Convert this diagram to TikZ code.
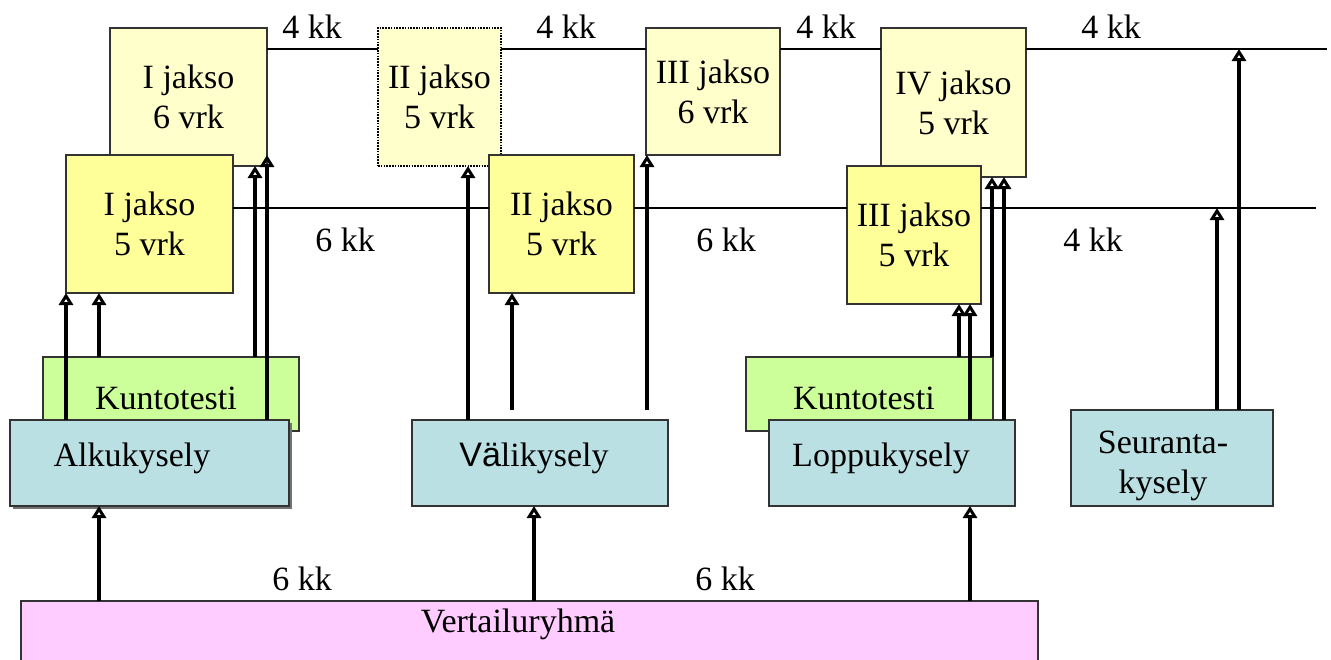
\documentclass[tikz,border=0pt]{standalone}
\usepackage{fontspec}
\setmainfont{Liberation Serif}
\setsansfont{Liberation Sans}
\usetikzlibrary{arrows.meta,shadows}
\definecolor{lyel}{HTML}{FFFFCC}
\definecolor{dyel}{HTML}{FFFF99}
\definecolor{lgreen}{HTML}{CCFF99}
\definecolor{qblue}{HTML}{BBE0E3}
\definecolor{lpink}{HTML}{FFCCFF}
\begin{document}
\begin{tikzpicture}[x=1pt,y=-1pt,font=\fontsize{34}{40}\selectfont,
  box/.style={draw=black!80,line width=1.3pt,inner sep=0pt,outer sep=0pt,anchor=north west,align=center},
  arr/.style={line width=3.4pt,-{Triangle[open,width=14pt,length=12pt,line width=3pt]}},
  thinline/.style={line width=1.4pt},
  lbl/.style={anchor=base,inner sep=0pt}]
\useasboundingbox (0,0) rectangle (1331,659);
% period boxes
\node[box,fill=lyel,minimum width=157pt,minimum height=138pt] (j1a) at (110,28) {I jakso\\6 vrk};
\node[box,fill=lyel,draw=black,line width=2pt,dash pattern=on 1.6pt off 1.2pt,minimum width=123pt,minimum height=138pt] (j2a) at (378,28) {II jakso\\5 vrk};
\node[box,fill=lyel,minimum width=134pt,minimum height=127pt] (j3a) at (646,28) {III jakso\\6 vrk};
\node[box,fill=lyel,minimum width=145pt,minimum height=149pt] (j4) at (881,28) {IV jakso\\5 vrk};
\node[box,fill=dyel,minimum width=167pt,minimum height=138pt] (j1b) at (66,155) {I jakso\\5 vrk};
\node[box,fill=dyel,minimum width=145pt,minimum height=138pt] (j2b) at (489,155) {II jakso\\5 vrk};
\node[box,fill=dyel,minimum width=134pt,minimum height=138pt] (j3b) at (847,166) {III jakso\\5 vrk};
% timeline end points
\coordinate (tEnd) at (1327,49);
\coordinate (mEnd) at (1316,208);
\draw[thinline] (j1a.east |- 0,49) -- (j2a.west |- 0,49);
\draw[thinline] (j2a.east |- 0,49) -- (j3a.west |- 0,49);
\draw[thinline] (j3a.east |- 0,49) -- (j4.west |- 0,49);
\draw[thinline] (j4.east |- 0,49) -- (tEnd);
\draw[thinline] (j1b.east |- 0,208) -- (j2b.west |- 0,208);
\draw[thinline] (j2b.east |- 0,208) -- (j3b.west |- 0,208);
\draw[thinline] (j3b.east |- 0,208) -- (mEnd);
% test and survey boxes
\node[box,fill=lgreen,minimum width=256pt,minimum height=74pt] (kunto1) at (43,357) {};
\node[box,fill=lgreen,minimum width=247pt,minimum height=74pt] (kunto2) at (746,357) {};
\node[box,fill=qblue,minimum width=279pt,minimum height=86pt,drop shadow={shadow xshift=3pt,shadow yshift=-3pt,fill=black!55,opacity=1}] (alku) at (10,420) {};
\node[box,fill=qblue,minimum width=256pt,minimum height=86pt] (vali) at (412,420) {};
\node[box,fill=qblue,minimum width=246pt,minimum height=86pt] (lopp) at (769,420) {};
\node[box,fill=qblue,minimum width=202pt,minimum height=96pt] (seur) at (1071,410) {};
\node[box,fill=lpink,minimum width=1017pt,minimum height=70pt] (vert) at (21,601) {};
% texts
\node[lbl] (kunto1T) at (166,409) {Kuntotesti};
\node[lbl] (kunto2T) at (864,409) {Kuntotesti};
\node[lbl] (alkuT) at (132,466) {Alkukysely};
\node[lbl] (valiT) at (534,466) {{\sffamily Vä}likysely};
\node[lbl] (loppT) at (881,466) {Loppukysely};
\node[inner sep=0pt,align=center] (seurT) at (1163,466) {Seuranta-\\kysely};
\node[lbl] (vertT) at (518,632) {Vertailuryhmä};
\node[lbl] (k1) at (312,38) {4 kk};
\node[lbl] (k2) at (566,38) {4 kk};
\node[lbl] (k3) at (826,38) {4 kk};
\node[lbl] (k4) at (1111,38) {4 kk};
\node[lbl] (k5) at (345,251) {6 kk};
\node[lbl] (k6) at (726,251) {6 kk};
\node[lbl] (k7) at (1093,251) {4 kk};
\node[lbl] (k8) at (302,590) {6 kk};
\node[lbl] (k9) at (725,590) {6 kk};
% arrows
\coordinate (v2) at (512,410);
\coordinate (v3) at (647,410);
\draw[arr] (alku.north -| 66,0) -- (j1b.south -| 66,0);
\draw[arr] (kunto1.north -| 99,0) -- (j1b.south -| 99,0);
\draw[arr] (kunto1.north -| 255,0) -- (j1a.south -| 255,0);
\draw[arr] (alku.north -| 267,0) -- (j1b.north -| 267,0);
\draw[arr] (vert.north -| 99,0) -- (alku.south -| 99,0);
\draw[arr] (vali.north -| 468,0) -- (j2a.south -| 468,0);
\draw[arr] (v2) -- (j2b.south -| 512,0);
\draw[arr] (v3) -- (j3a.south -| 647,0);
\draw[arr] (vert.north -| 534,0) -- (vali.south -| 534,0);
\draw[arr] (kunto2.north -| 959,0) -- (j3b.south -| 959,0);
\draw[arr] (lopp.north -| 970,0) -- (j3b.south -| 970,0);
\draw[arr] (kunto2.north -| 992,0) -- (j4.south -| 992,0);
\draw[arr] (lopp.north -| 1004,0) -- (j4.south -| 1004,0);
\draw[arr] (vert.north -| 970,0) -- (lopp.south -| 970,0);
\draw[arr] (seur.north -| 1217,0) -- (mEnd -| 1217,0);
\draw[arr] (seur.north -| 1239,0) -- (tEnd -| 1239,0);
\end{tikzpicture}
\end{document}
